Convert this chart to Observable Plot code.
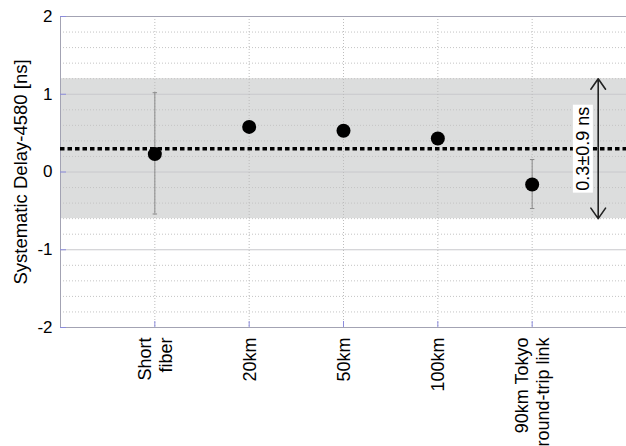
<!DOCTYPE html>
<html>
<head>
<meta charset="utf-8">
<script src="https://cdn.jsdelivr.net/npm/d3@7"></script>
<script src="https://cdn.jsdelivr.net/npm/@observablehq/plot@0.6"></script>
<style>
  body { margin: 0; background: #fff; }
  #chart svg { display: block; font-family: "Liberation Sans", Arial, sans-serif; }
</style>
</head>
<body>
<div id="chart"></div>
<script>
// Measured systematic delay per fiber configuration (ns)
const categories = ["Short\nfiber", "20km", "50km", "100km", "90km Tokyo\nround-trip link"];
const delays = [0.23, 0.58, 0.53, 0.43, -0.16];
const errLow = [-0.54, null, null, null, -0.47];
const errHigh = [1.02, null, null, null, 0.16];

// Combined estimate: mean ± spread
const meanDelay = 0.3;
const spread = 0.9;
const spreadLabel = "0.3±0.9 ns";

// Axis ticks and annotation placement (x in category-slot units)
const yTicks = [-2, -1, 0, 1, 2];
const yMinor = [-1.8, -1.6, -1.4, -1.2, -0.8, -0.6, -0.4, -0.2, 0.2, 0.4, 0.6, 0.8, 1.2, 1.4, 1.6, 1.8];
const arrowX = 5.7;
const labelX = 5.54;

const points = categories.map((c, i) => ({
  pos: i + 1, name: c, delay: delays[i], lo: errLow[i], hi: errHigh[i]
}));
const withErr = points.filter(d => d.lo != null);

const capSymbol = {
  draw(ctx, size) {
    const r = Math.sqrt(size) / 2;
    ctx.moveTo(-r, 0);
    ctx.lineTo(r, 0);
  }
};

const frameColor = "#a3a3b3";
const tickColor = "#8c8cdc";

const chart = Plot.plot({
  width: 626,
  height: 446,
  marginTop: 16,
  marginLeft: 60,
  marginRight: 0,
  marginBottom: 119,
  style: { fontFamily: "Liberation Sans, Arial, sans-serif", color: "#000", background: "#fff" },
  x: { type: "linear", domain: [0, 6] },
  y: { domain: [-2, 2] },
  marks: [
    // spread band
    Plot.rect([{ lo: meanDelay - spread, hi: meanDelay + spread }], { y1: "lo", y2: "hi", fill: "#dcdddd" }),
    // minor and major gridlines
    Plot.ruleY(yMinor, { stroke: "#c4c4c4", strokeWidth: 1, strokeDasharray: "1,2" }),
    Plot.ruleY([-1, 0, 1], { stroke: "#c8c8cc", strokeWidth: 1 }),
    Plot.ruleX(points, { x: "pos", stroke: "#bdbdbd", strokeWidth: 1, strokeDasharray: "1,2" }),
    // frame lines
    Plot.ruleY([2, -2], { stroke: frameColor, strokeWidth: 1 }),
    Plot.ruleX([0], { stroke: frameColor, strokeWidth: 1 }),
    // axes
    Plot.axisY({ ticks: yTicks, tickFormat: d => String(d), tickSize: 0, tickPadding: 8, fontSize: 17, label: null }),
    Plot.axisY({ ticks: yTicks, tickSize: -6, text: null, stroke: tickColor, label: null }),
    Plot.axisX({ ticks: [1, 2, 3, 4, 5], tickSize: -6, text: null, stroke: tickColor, label: null }),
    Plot.axisX({
      ticks: [1, 2, 3, 4, 5],
      tickFormat: v => categories[v - 1],
      tickRotate: -90,
      tickSize: 0,
      tickPadding: 10,
      fontSize: 18,
      lineHeight: 1.15,
      label: null
    }),
    Plot.text(["Systematic Delay-4580 [ns]"], {
      frameAnchor: "left", textAnchor: "middle", dx: -39, rotate: -90, fontSize: 18.5, fill: "#000"
    }),
    // mean line
    Plot.ruleY([meanDelay], { stroke: "#000", strokeWidth: 3.5, strokeDasharray: "4.5,3" }),
    // error bars with caps
    Plot.ruleX(withErr, { x: "pos", y1: "lo", y2: "hi", stroke: "#8a8a8a", strokeWidth: 1 }),
    Plot.dot(withErr, { x: "pos", y: "lo", symbol: capSymbol, r: 2.5, stroke: "#8a8a8a", strokeWidth: 1 }),
    Plot.dot(withErr, { x: "pos", y: "hi", symbol: capSymbol, r: 2.5, stroke: "#8a8a8a", strokeWidth: 1 }),
    // measurements
    Plot.dot(points, { x: "pos", y: "delay", r: 7, fill: "#000" }),
    // spread annotation
    Plot.arrow([
      { x: arrowX, y1: meanDelay, y2: meanDelay + spread },
      { x: arrowX, y1: meanDelay, y2: meanDelay - spread }
    ], { x1: "x", x2: "x", y1: "y1", y2: "y2", stroke: "#222", strokeWidth: 1.6, headLength: 12, headAngle: 70 }),
    Plot.text([spreadLabel], {
      x: labelX, y: meanDelay, rotate: -90, fontSize: 18, fill: "#000", className: "spread-label"
    })
  ]
});

document.getElementById("chart").appendChild(chart);

// white box behind the rotated spread label
chart.querySelectorAll(".spread-label text").forEach(t => {
  const b = t.getBBox();
  const pad = 2;
  const rect = document.createElementNS("http://www.w3.org/2000/svg", "rect");
  rect.setAttribute("x", b.x - pad);
  rect.setAttribute("y", b.y);
  rect.setAttribute("width", b.width + 2 * pad);
  rect.setAttribute("height", b.height);
  rect.setAttribute("fill", "#fff");
  const tr = t.getAttribute("transform");
  if (tr) rect.setAttribute("transform", tr);
  t.parentNode.insertBefore(rect, t);
});
</script>
</body>
</html>
